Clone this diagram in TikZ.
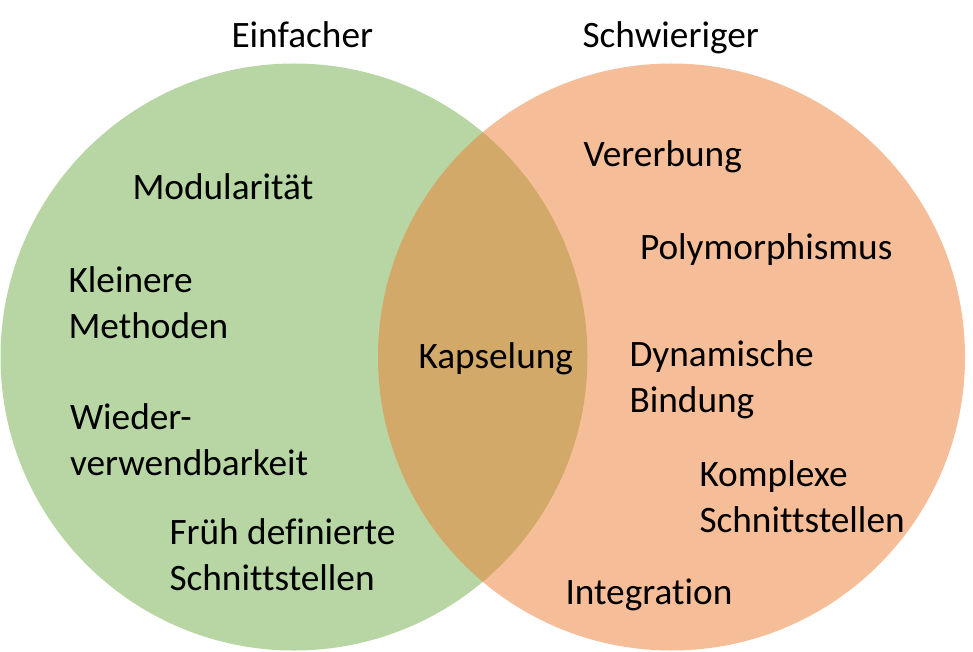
\documentclass[tikz,border=0pt]{standalone}
\usepackage{fontspec}
\setmainfont{Carlito}[Ligatures=NoCommon]
\definecolor{venngreen}{HTML}{70AD47}
\definecolor{vennorange}{HTML}{ED7D31}
\newcommand\vennpair[2]{\vtop{\baselineskip=46pt\hbox{#1}\hbox{#2}}}
\begin{document}
\begin{tikzpicture}[x=1pt,y=-1pt,
  vennset/.style={circle,minimum size=587pt,inner sep=0pt,draw=none,fill opacity=0.5},
  lbl/.style={anchor=base west,inner sep=0pt,outer sep=0pt,font=\fontsize{37.3}{46}\selectfont,text=black}]
\useasboundingbox (0,0) rectangle (973,652);
\node[vennset,fill=venngreen] (easy) at (294,357) {};
\node[vennset,fill=vennorange] (hard) at (671.5,357) {};
\node[lbl] (einfacher) at (231.5,48) {Einfacher};
\node[lbl] (schwieriger) at (582.5,48) {Schwieriger};
\node[lbl] (modul) at (132.5,199.5) {Modularität};
\node[lbl] (klein) at (68.5,292) {\vennpair{Kleinere}{Methoden}};
\node[lbl] (wieder) at (70,429.5) {\vennpair{Wieder-}{verwendbarkeit}};
\node[lbl] (frueh) at (169.5,544.5) {\vennpair{Früh definierte}{Schnittstellen}};
\node[lbl] (kapsel) at (418.5,368) {Kapselung};
\node[lbl] (vererb) at (583.5,166.5) {Vererbung};
\node[lbl] (poly) at (640,259.5) {Polymorphismus};
\node[lbl] (dyn) at (629.5,366.5) {\vennpair{Dynamische}{Bindung}};
\node[lbl] (komplex) at (699.5,486.5) {\vennpair{Komplexe}{Schnittstellen}};
\node[lbl] (integ) at (565.5,604.5) {Integration};
\end{tikzpicture}
\end{document}
